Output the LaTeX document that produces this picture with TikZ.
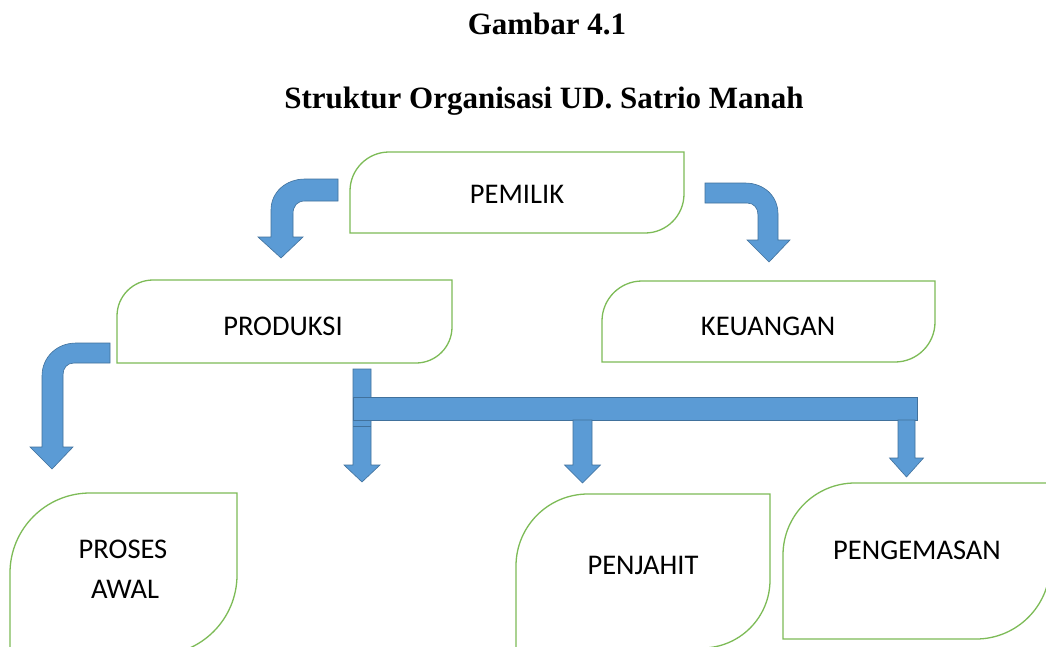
\documentclass[tikz,border=0pt]{standalone}
\usepackage{fontspec}
\setmainfont{Liberation Serif}
\newfontfamily\boxfont{Carlito}
\definecolor{arrowfill}{HTML}{5B9BD5}
\definecolor{arrowline}{HTML}{41719C}
\definecolor{boxgreen}{HTML}{7DBB57}
\tikzset{
  blockarrow/.style={fill=arrowfill, draw=arrowline, line width=0.6pt, line join=miter},
  boxline/.style={draw=boxgreen, line width=1.3pt},
  boxtext/.style={font=\boxfont\fontsize{28.5}{34}\selectfont, text=black, inner sep=0pt, anchor=base},
  titletext/.style={font=\bfseries\fontsize{31}{37}\selectfont, inner sep=0pt, anchor=base},
}
% round diagonal corner box: x1 y1 x2 y2 r(top-left) r(bottom-right)
\newcommand{\rdbox}[6]{%
  \pgfmathsetmacro{\rka}{0.448*#5}%
  \pgfmathsetmacro{\rkb}{0.448*#6}%
  \draw[boxline] ({#1+#5},#2) -- (#3,#2) -- (#3,{#4-#6})
    .. controls (#3,{#4-\rkb}) and ({#3-\rkb},#4) .. ({#3-#6},#4)
    -- (#1,#4) -- (#1,{#2+#5})
    .. controls (#1,{#2+\rka}) and ({#1+\rka},#2) .. cycle;}
% straight down block arrow: cx ytop yhead ytip halfshaft halfhead
\newcommand{\dnarrow}[6]{%
  \draw[blockarrow] ({#1-#5},#2) -- ({#1+#5},#2) -- ({#1+#5},#3) -- ({#1+#6},#3)
    -- (#1,#4) -- ({#1-#6},#3) -- ({#1-#5},#3) -- cycle;}
\begin{document}
\begin{tikzpicture}[x=1pt,y=-1pt]
\useasboundingbox (0,0) rectangle (1046,646);
\clip (0,0) rectangle (1046,646);
\fill[white] (0,0) rectangle (1046,646);

% titles
\node[titletext] (t1) at (547,34) {Gambar 4.1};
\node[titletext] (t2) at (544,108) {Struktur Organisasi UD. Satrio Manah};

% boxes
\rdbox{350}{152}{684}{233}{39}{39}
\node[boxtext] (pemilik) at (517,203) {PEMILIK};
\rdbox{117}{280}{452}{363}{36}{36}
\node[boxtext] (produksi) at (283,335) {PRODUKSI};
\rdbox{602}{281}{935}{362}{40}{40}
\node[boxtext] (keuangan) at (768,335) {KEUANGAN};
\rdbox{10}{493}{237}{655}{80}{80}
\node[boxtext] (proses) at (123,558) {PROSES};
\node[boxtext] (awal) at (125,598) {AWAL};
\rdbox{516}{494}{770}{648}{72}{68}
\node[boxtext] (penjahit) at (643,574) {PENJAHIT};
\rdbox{783}{483}{1050}{639}{72}{74}
\node[boxtext] (pengemasan) at (917,559) {PENGEMASAN};

% bent arrow from PEMILIK to the left
\draw[blockarrow] (338,179) -- (305,179) .. controls (286,179) and (271,192) .. (271,210)
  -- (271,237) -- (258,237) -- (281,258) -- (303,237) -- (293,237) -- (293,214)
  .. controls (293,206) and (297,201) .. (305,201) -- (338,201) -- cycle;
% bent arrow from PEMILIK to the right
\draw[blockarrow] (705,183) -- (745,183) .. controls (764,183) and (778,196) .. (778,214)
  -- (778,240) -- (790,240) -- (769,262) -- (747,240) -- (758,240) -- (758,215)
  .. controls (758,208) and (754,203) .. (747,203) -- (705,203) -- cycle;
% bent arrow from PRODUKSI to the left
\draw[blockarrow] (110,343) -- (76,343) .. controls (57,343) and (42,357) .. (42,376)
  -- (42,447) -- (30,447) -- (52,469) -- (73,447) -- (63,447) -- (63,375)
  .. controls (63,368) and (67,363) .. (74,363) -- (110,363) -- cycle;

% branch structure
\dnarrow{362}{369}{465}{482}{9}{18}
\draw[blockarrow] (353,397) rectangle (917,420);
\draw[arrowline, line width=0.6pt] (353,426) -- (371,426);
\dnarrow{582.5}{420}{465}{483}{9.5}{18}
\dnarrow{906.5}{420}{458}{477}{8.5}{17}
\end{tikzpicture}
\end{document}
